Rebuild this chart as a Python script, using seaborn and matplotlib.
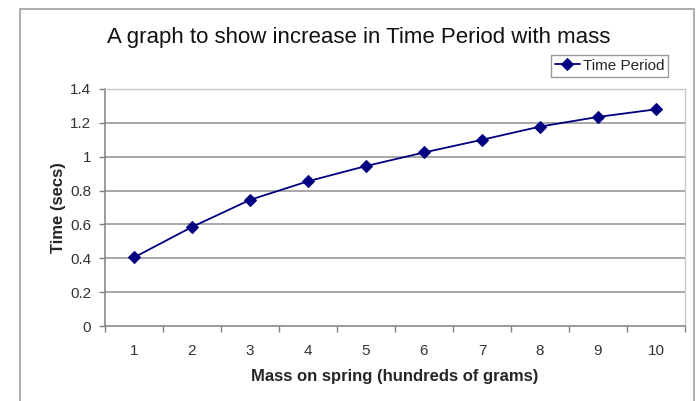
import matplotlib
matplotlib.use("Agg")
import matplotlib.pyplot as plt
from matplotlib.patches import Rectangle
import seaborn as sns
import pandas as pd

mass = [1, 2, 3, 4, 5, 6, 7, 8, 9, 10]
time_period = [0.405, 0.585, 0.745, 0.855, 0.945, 1.025, 1.10, 1.178, 1.235, 1.28]
y_ticks = [0, 0.2, 0.4, 0.6, 0.8, 1, 1.2, 1.4]
y_tick_labels = ["0", "0.2", "0.4", "0.6", "0.8", "1", "1.2", "1.4"]

df = pd.DataFrame({"Mass": mass, "Time Period": time_period})

sns.set_style("white")
plt.rcParams["font.family"] = ["Liberation Sans", "DejaVu Sans"]

fig = plt.figure(figsize=(7, 4.01), dpi=100)
# outer chart frame
fig.patches.append(Rectangle((20 / 700, -0.05), (694 - 20) / 700, 1 - 9 / 401 + 0.05,
                             transform=fig.transFigure, fill=False,
                             edgecolor="#a0a0a0", linewidth=1.2))

ax = fig.add_axes([105 / 700, 1 - 326 / 401, (685 - 105) / 700, (326 - 89) / 401])
sns.lineplot(data=df, x="Mass", y="Time Period", ax=ax, color="#000080",
             marker="D", markersize=6, markeredgecolor="#000080",
             linewidth=1.3, label="Time Period")

ax.set_xlim(0.5, 10.5)
ax.set_ylim(0, 1.4)
ax.set_yticks(y_ticks)
ax.set_yticklabels(y_tick_labels)
ax.set_xticks(mass)
ax.set_xticklabels([str(m) for m in mass])
ax.set_xticks([m + 0.5 for m in [0] + mass], minor=True)
ax.tick_params(axis="x", which="major", length=0, pad=13, labelsize=11, colors="#333333")
ax.tick_params(axis="x", which="minor", length=4, color="#808080", width=1)
ax.tick_params(axis="y", length=4, color="#808080", width=1, labelsize=11,
               labelcolor="#333333", pad=6)
ax.yaxis.set_ticks_position("left")
ax.xaxis.set_ticks_position("bottom")

for y in y_ticks[1:]:
    ax.axhline(y, color="#909090", linewidth=1.1, zorder=0)

for side in ["top", "right"]:
    ax.spines[side].set_color("#c8c8c8")
    ax.spines[side].set_linewidth(1)
for side in ["left", "bottom"]:
    ax.spines[side].set_color("#808080")
    ax.spines[side].set_linewidth(1.1)

ax.set_xlabel("Mass on spring (hundreds of grams)", fontsize=12, fontweight="bold",
              labelpad=8)
ax.set_ylabel("Time (secs)", fontsize=12, fontweight="bold", labelpad=3)

fig.text(359 / 700, 1 - 37 / 401, "A graph to show increase in Time Period with mass",
         ha="center", va="center", fontsize=16, color="#111111")

leg = ax.legend(loc="upper right", bbox_to_anchor=(668 / 700, 1 - 55 / 401),
                bbox_transform=fig.transFigure, frameon=True, fancybox=False,
                fontsize=11, handlelength=1.6, handletextpad=0.2,
                borderpad=0.25, borderaxespad=0)
leg.get_frame().set_edgecolor("#808080")
leg.get_frame().set_linewidth(1)

fig.savefig("out.png", dpi=100)
